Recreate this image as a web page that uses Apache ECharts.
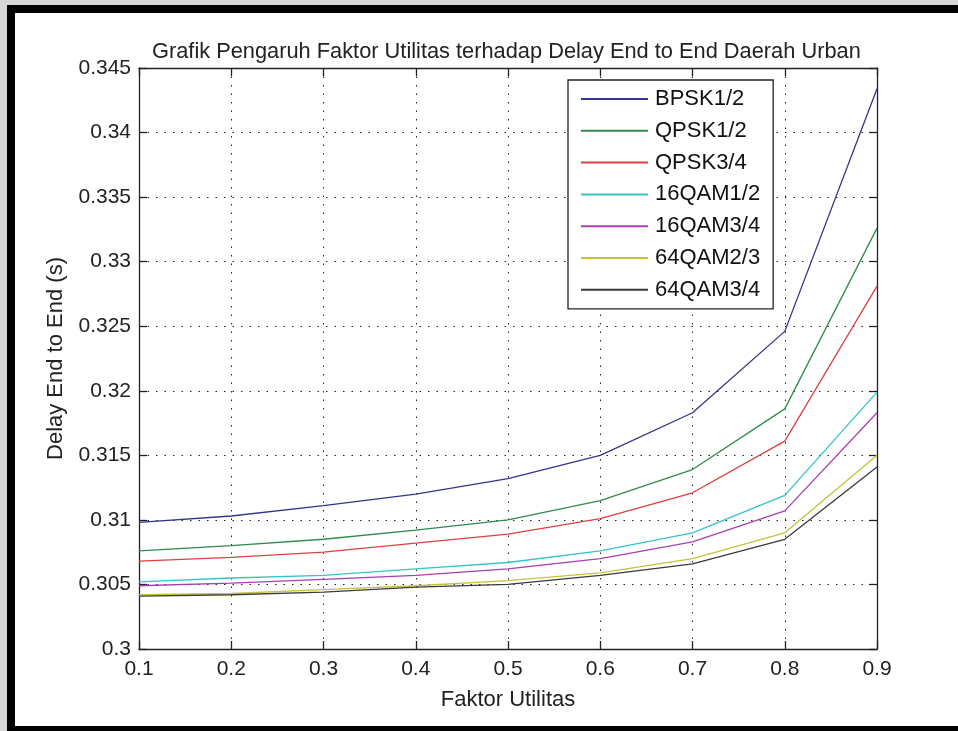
<!DOCTYPE html>
<html>
<head>
<meta charset="utf-8">
<script src="https://cdn.jsdelivr.net/npm/echarts@6/dist/echarts.min.js"></script>
<style>
html,body{margin:0;padding:0;width:958px;height:731px;overflow:hidden;background:#d6d6d6;}
#frame{position:absolute;left:7px;top:5px;width:943px;height:713px;background:#fff;border-left:8px solid #000;border-top:8px solid #000;border-bottom:5px solid #000;}
#chart{position:absolute;left:0;top:0;width:958px;height:731px;}
</style>
</head>
<body>
<div id="frame"></div>
<div id="chart"></div>
<script>
// Faktor Utilitas (x values)
const faktorUtilitas = [0.1, 0.2, 0.3, 0.4, 0.5, 0.6, 0.7, 0.8, 0.9];
// Delay End to End (s) per modulation
const bpsk12   = [0.3098, 0.3103, 0.3111, 0.3120, 0.3132, 0.3150, 0.3183, 0.3246, 0.3434];
const qpsk12   = [0.3076, 0.3080, 0.3085, 0.3092, 0.3100, 0.3115, 0.3139, 0.3186, 0.3326];
const qpsk34   = [0.3068, 0.3071, 0.3075, 0.3082, 0.3089, 0.3101, 0.3121, 0.3161, 0.3281];
const qam16_12 = [0.3052, 0.3055, 0.3057, 0.3062, 0.3067, 0.3076, 0.3090, 0.3119, 0.3199];
const qam16_34 = [0.3049, 0.3051, 0.3054, 0.3057, 0.3062, 0.3070, 0.3083, 0.3107, 0.3183];
const qam64_23 = [0.3042, 0.3043, 0.3046, 0.3049, 0.3053, 0.3059, 0.3070, 0.3090, 0.3150];
const qam64_34 = [0.3041, 0.3042, 0.3044, 0.3048, 0.3050, 0.3057, 0.3066, 0.3085, 0.3141];
const seriesNames = ['BPSK1/2','QPSK1/2','QPSK3/4','16QAM1/2','16QAM3/4','64QAM2/3','64QAM3/4'];
const seriesValues = [bpsk12, qpsk12, qpsk34, qam16_12, qam16_34, qam64_23, qam64_34];
const seriesColors = ['#34348c','#2f8a4c','#dc4040','#36c4c4','#a83fb0','#c4c43c','#3a3a3a'];

const FONT = '"Liberation Sans", Arial, sans-serif';
const fmt = v => String(parseFloat(Number(v).toFixed(4)));

const chart = echarts.init(document.getElementById('chart'), null, {renderer:'canvas'});
const axisLineStyle = {color:'#222', width:1.3};
const gridLine = {show:true, lineStyle:{color:'#222', width:1, type:[1.5,7]}};

chart.setOption({
  backgroundColor: 'transparent',
  animation: false,
  title: {
    text: 'Grafik Pengaruh Faktor Utilitas terhadap Delay End to End Daerah Urban',
    left: 147, top: 36,
    textStyle: {fontFamily: FONT, fontSize: 21.8, fontWeight: 'normal', color: '#222'}
  },
  grid: {left: 139, top: 68, right: 81, bottom: 82, containLabel: false},
  legend: {
    orient: 'vertical',
    left: 568, top: 80,
    padding: [7, 13, 7, 13],
    itemGap: 7.8,
    itemWidth: 67, itemHeight: 2,
    icon: 'rect',
    backgroundColor: '#fff',
    borderColor: '#222', borderWidth: 1.3,
    textStyle: {fontFamily: FONT, fontSize: 22, color: '#111', lineHeight: 24, padding:[0,0,0,2]},
    data: seriesNames
  },
  xAxis: [{
    type: 'value', min: 0.1, max: 0.9, interval: 0.1,
    name: 'Faktor Utilitas', nameLocation: 'middle', nameGap: 40,
    nameTextStyle: {fontFamily: FONT, fontSize: 22, color: '#222'},
    axisLine: {show: true, lineStyle: axisLineStyle},
    axisTick: {show: true, inside: true, length: 8, lineStyle: axisLineStyle},
    axisLabel: {fontFamily: FONT, fontSize: 21, color: '#222', margin: 10, formatter: fmt},
    splitLine: gridLine
  }, {
    type: 'value', min: 0.1, max: 0.9, interval: 0.1, position: 'top',
    axisLine: {show: true, lineStyle: axisLineStyle},
    axisTick: {show: true, inside: true, length: 8, lineStyle: axisLineStyle},
    axisLabel: {show: false}, splitLine: {show: false}
  }],
  yAxis: [{
    type: 'value', min: 0.3, max: 0.345, interval: 0.005,
    name: 'Delay End to End (s)', nameLocation: 'middle', nameGap: 72, nameRotate: 90,
    nameTextStyle: {fontFamily: FONT, fontSize: 22, color: '#222'},
    axisLine: {show: true, lineStyle: axisLineStyle},
    axisTick: {show: true, inside: true, length: 8, lineStyle: axisLineStyle},
    axisLabel: {fontFamily: FONT, fontSize: 21, color: '#222', margin: 8, formatter: fmt},
    splitLine: gridLine
  }, {
    type: 'value', min: 0.3, max: 0.345, interval: 0.005, position: 'right',
    axisLine: {show: true, lineStyle: axisLineStyle},
    axisTick: {show: true, inside: true, length: 8, lineStyle: axisLineStyle},
    axisLabel: {show: false}, splitLine: {show: false}
  }],
  series: seriesNames.map((name, i) => ({
    name: name,
    type: 'line',
    xAxisIndex: 0, yAxisIndex: 0,
    symbol: 'none',
    color: seriesColors[i],
    lineStyle: {width: 1.3, color: seriesColors[i]},
    data: faktorUtilitas.map((x, j) => [x, seriesValues[i][j]])
  }))
});
</script>
</body>
</html>
